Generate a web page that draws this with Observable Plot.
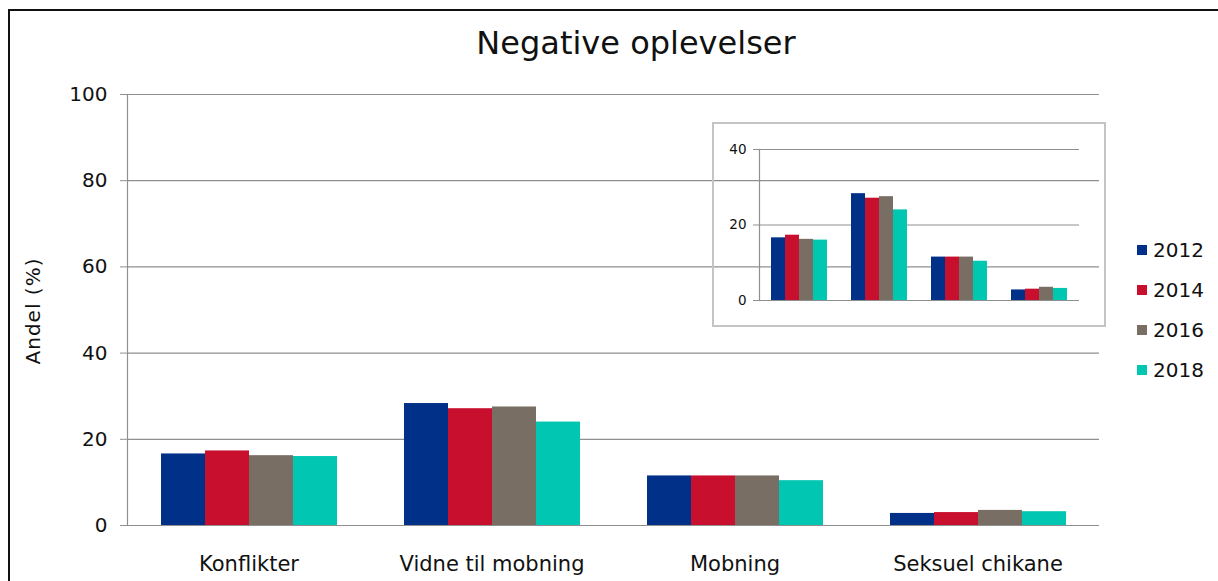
<!DOCTYPE html>
<html><head><meta charset="utf-8">
<script src="https://cdn.jsdelivr.net/npm/d3@7"></script>
<script src="https://cdn.jsdelivr.net/npm/@observablehq/plot@0.6"></script>
<style>
body{margin:0;background:#fff;font-family:"DejaVu Sans",Verdana,sans-serif;color:#111;}
#wrap{position:relative;width:1218px;height:581px;overflow:hidden;background:#fff;}
#frame{position:absolute;left:8px;top:9px;width:1400px;height:800px;border-left:2px solid #111;border-top:2px solid #111;box-sizing:border-box;}
#main{position:absolute;left:0;top:0;}
#title{position:absolute;left:0;width:1272px;top:25px;line-height:36px;font-size:32px;text-align:center;}
#ylab{position:absolute;left:33px;top:311px;font-size:20px;letter-spacing:1px;transform:translate(-50%,-50%) rotate(-90deg);white-space:nowrap;line-height:22px;}
#inset{position:absolute;left:712px;top:122px;width:394px;height:205px;border:2px solid #c4c4c4;box-sizing:border-box;}
#legend{position:absolute;left:1137px;top:0;}
.li{position:absolute;left:0;height:24px;display:flex;align-items:center;font-size:20px;white-space:nowrap;}
.sw{width:10px;height:10px;margin-right:6px;}
</style>
</head><body>
<div id="wrap">
  <div id="frame"></div>
  <div id="main"></div>
  <div id="title">Negative oplevelser</div>
  <div id="ylab">Andel (%)</div>
  <div id="inset"></div>
  <div id="legend"></div>
</div>
<script>
const categories = ["Konflikter", "Vidne til mobning", "Mobning", "Seksuel chikane"];
const years = ["2012", "2014", "2016", "2018"];
const colors = ["#003087", "#C8102E", "#786E64", "#00C6B2"];
const v2012 = [16.6, 28.3, 11.5, 2.8];
const v2014 = [17.3, 27.1, 11.5, 3.0];
const v2016 = [16.2, 27.5, 11.5, 3.5];
const v2018 = [16.0, 24.0, 10.4, 3.2];
const mainTicks = [0, 20, 40, 60, 80, 100];
const insetTicks = [0, 20, 40];

const series = [v2012, v2014, v2016, v2018];
const data = categories.flatMap((c, i) => years.map((y, j) => ({category: c, year: y, value: series[j][i]})));
const font = "DejaVu Sans, Verdana, sans-serif";
const grid = "#8f8f8f";

const main = Plot.plot({
  width: 1218, height: 581,
  marginLeft: 126, marginRight: 118, marginTop: 94, marginBottom: 56,
  style: {fontFamily: font, fontSize: "20px", color: "#111", background: "transparent", overflow: "visible"},
  fx: {domain: categories, padding: 0, label: null},
  x: {domain: years, paddingInner: 0, paddingOuter: 0.75, axis: null},
  y: {domain: [0, 100], axis: null},
  color: {domain: years, range: colors},
  marks: [
    Plot.gridY(mainTicks, {stroke: grid, strokeOpacity: 1, strokeWidth: 1.2}),
    Plot.barY(data, {fx: "category", x: "year", y: "value", fill: "year"}),
    Plot.axisY(mainTicks, {tickSize: 7, tickPadding: 13, fontSize: 20, label: null, stroke: grid, facetAnchor: "left"}),
    Plot.axisFx({anchor: "bottom", tickSize: 0, tickPadding: 31, fontSize: 21, label: null}),
    Plot.frame({anchor: "left", stroke: grid, strokeWidth: 1.2, facetAnchor: "left"})
  ]
});
document.getElementById("main").appendChild(main);

const inset = Plot.plot({
  width: 390, height: 201,
  marginLeft: 44, marginRight: 24, marginTop: 25, marginBottom: 25,
  style: {fontFamily: font, fontSize: "13.5px", color: "#111", background: "transparent", overflow: "visible"},
  fx: {domain: categories, padding: 0, label: null, axis: null},
  x: {domain: years, paddingInner: 0, paddingOuter: 0.78, axis: null},
  y: {domain: [0, 40], axis: null},
  color: {domain: years, range: colors},
  marks: [
    Plot.gridY(insetTicks, {stroke: grid, strokeOpacity: 1, strokeWidth: 1.2}),
    Plot.barY(data, {fx: "category", x: "year", y: "value", fill: "year"}),
    Plot.axisY(insetTicks, {tickSize: 6, tickPadding: 7, fontSize: 13.5, label: null, stroke: grid, facetAnchor: "left"}),
    Plot.frame({anchor: "left", stroke: grid, strokeWidth: 1.2, facetAnchor: "left"})
  ]
});
document.getElementById("inset").appendChild(inset);

const legend = document.getElementById("legend");
years.forEach((y, i) => {
  const row = document.createElement("div");
  row.className = "li";
  row.style.top = (238 + i * 40) + "px";
  const sw = document.createElement("div");
  sw.className = "sw";
  sw.style.background = colors[i];
  const t = document.createElement("span");
  t.textContent = y;
  row.appendChild(sw); row.appendChild(t);
  legend.appendChild(row);
});
</script>
</body></html>
